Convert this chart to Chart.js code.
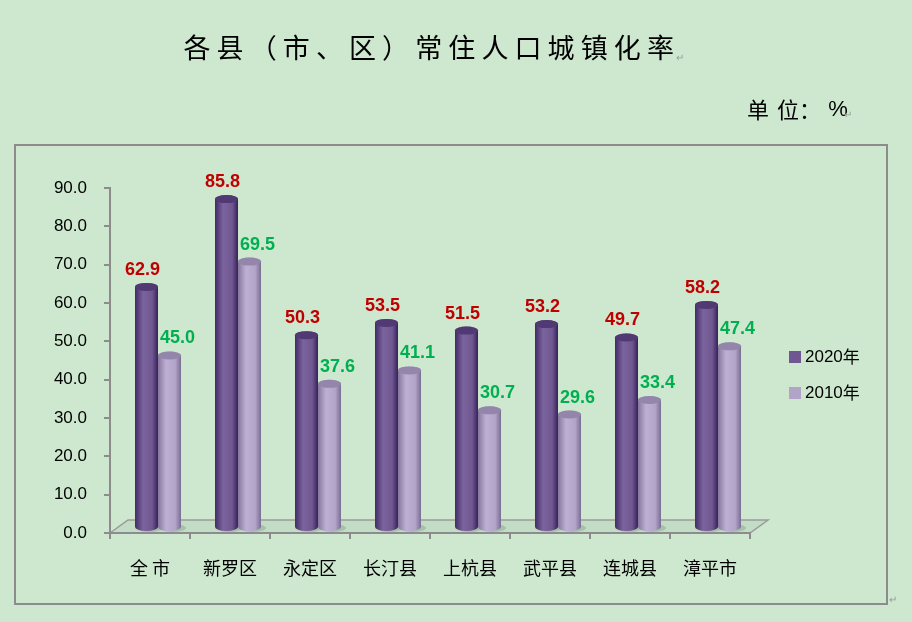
<!DOCTYPE html>
<html>
<head>
<meta charset="utf-8">
<script src="https://cdn.jsdelivr.net/npm/chart.js@4.4.1/dist/chart.umd.min.js"></script>
<style>
  html, body { margin: 0; padding: 0; background: #cde8cf; }
  #wrap { width: 912px; height: 622px; position: relative; }
</style>
</head>
<body>
<div id="wrap"><canvas id="urbanChart" width="912" height="622"></canvas></div>
<script>
// data
const regions = ['全 市', '新罗区', '永定区', '长汀县', '上杭县', '武平县', '连城县', '漳平市'];
const rate2020 = [62.9, 85.8, 50.3, 53.5, 51.5, 53.2, 49.7, 58.2];
const rate2010 = [45.0, 69.5, 37.6, 41.1, 30.7, 29.6, 33.4, 47.4];
const seriesNames = ['2020年', '2010年'];
const titleText = '各县（市、区）常住人口城镇化率';
const unitText = ['单', '位', '：', '%'];

const CJK = '"Noto Sans CJK SC", "Noto Sans", sans-serif';
const LATIN = '"Liberation Sans", Arial, sans-serif';
const colors = ['#6f5891', '#b2a3c9'];
const labelColors = ['#c00000', '#00b050'];
const DX = 18, DY = -13;   // floor depth

// frame, title, unit and floor
const backdrop = {
    id: 'backdrop',
    beforeDraw(chart) {
        const ctx = chart.ctx;
        const a = chart.chartArea;
        ctx.save();
        ctx.fillStyle = '#cde8cf';
        ctx.fillRect(0, 0, chart.width, chart.height);
        ctx.strokeStyle = '#8c8c8c';
        ctx.lineWidth = 2;
        ctx.strokeRect(15, 145, 872, 459);

        ctx.fillStyle = '#000';
        ctx.textAlign = 'center';
        ctx.textBaseline = 'middle';
        ctx.font = '27px ' + CJK;
        [...titleText].forEach((c, i) => ctx.fillText(c, 197 + i * 33.1, 48));
        const ux = [758, 788, 810, 838];
        unitText.forEach((c, i) => {
            ctx.font = (c === '%' ? '22px ' + LATIN : '22px ' + CJK);
            ctx.fillText(c, ux[i], 110);
        });
        ctx.fillStyle = '#999';
        ctx.font = '10px ' + LATIN;
        ctx.fillText('↵', 680, 58);
        ctx.fillText('↵', 848, 115);
        ctx.fillText('↵', 893, 600);

        // floor slab
        const y0 = chart.scales.y.getPixelForValue(0);
        ctx.beginPath();
        ctx.moveTo(a.left, y0);
        ctx.lineTo(a.left + DX, y0 + DY);
        ctx.lineTo(a.right + DX, y0 + DY);
        ctx.lineTo(a.right, y0);
        ctx.closePath();
        ctx.fillStyle = '#c3dcc5';
        ctx.fill();
        ctx.strokeStyle = '#9a9a9a';
        ctx.lineWidth = 1.5;
        ctx.stroke();
        ctx.restore();
    }
};

function cylinder(ctx, cx, top, bottom, w, base) {
    const rx = w / 2, ry = 4;
    // shadow on floor
    ctx.fillStyle = 'rgba(60,80,60,0.2)';
    ctx.beginPath();
    ctx.ellipse(cx + 3, bottom + 1, rx + 2, ry, 0, 0, Math.PI * 2);
    ctx.fill();
    const g = ctx.createLinearGradient(cx - rx, 0, cx + rx, 0);
    g.addColorStop(0, shade(base, -45));
    g.addColorStop(0.35, shade(base, 12));
    g.addColorStop(0.75, base);
    g.addColorStop(1, shade(base, -55));
    ctx.fillStyle = g;
    ctx.beginPath();
    ctx.moveTo(cx - rx, top);
    ctx.lineTo(cx - rx, bottom);
    ctx.ellipse(cx, bottom, rx, ry, 0, Math.PI, 0, true);
    ctx.lineTo(cx + rx, top);
    ctx.ellipse(cx, top, rx, ry, 0, 0, Math.PI, true);
    ctx.fill();
    ctx.fillStyle = shade(base, -30);
    ctx.beginPath();
    ctx.ellipse(cx, top, rx, ry, 0, 0, Math.PI * 2);
    ctx.fill();
}

function shade(hex, amt) {
    const n = parseInt(hex.slice(1), 16);
    const c = [(n >> 16) & 255, (n >> 8) & 255, n & 255].map(v => Math.max(0, Math.min(255, v + amt)));
    return 'rgb(' + c.join(',') + ')';
}

// cylinders, value labels, legend
const cylinders = {
    id: 'cylinders',
    afterDatasetsDraw(chart) {
        const ctx = chart.ctx;
        ctx.save();
        chart.data.datasets.forEach((ds, di) => {
            chart.getDatasetMeta(di).data.forEach((el, i) => {
                const cx = el.x + 8;
                const top = el.y - 5;
                cylinder(ctx, cx, top, el.base - 5, 23, colors[di]);
                ctx.fillStyle = labelColors[di];
                ctx.font = 'bold 18px ' + LATIN;
                ctx.textAlign = 'center';
                ctx.textBaseline = 'middle';
                ctx.fillText(ds.data[i].toFixed(1), cx + (di === 0 ? -4 : 8), top - 17);
            });
        });
        seriesNames.forEach((name, i) => {
            const y = 357 + i * 36;
            ctx.fillStyle = colors[i];
            ctx.fillRect(789, y - 6, 12, 12);
            ctx.fillStyle = '#000';
            ctx.textAlign = 'left';
            ctx.textBaseline = 'middle';
            ctx.font = '17px ' + LATIN;
            ctx.fillText(name.slice(0, 4), 805, y);
            const w = ctx.measureText(name.slice(0, 4)).width;
            ctx.font = '17px ' + CJK;
            ctx.fillText(name.slice(4), 805 + w, y);
        });
        ctx.restore();
    }
};

new Chart(document.getElementById('urbanChart'), {
    type: 'bar',
    data: {
        labels: regions,
        datasets: [
            { label: seriesNames[0], data: rate2020, backgroundColor: 'rgba(0,0,0,0)' },
            { label: seriesNames[1], data: rate2010, backgroundColor: 'rgba(0,0,0,0)' }
        ]
    },
    options: {
        responsive: false,
        animation: false,
        layout: { padding: { left: 0, top: 188, right: 162, bottom: 0 } },
        plugins: { legend: { display: false }, tooltip: { enabled: false } },
        datasets: { bar: { barThickness: 23, categoryPercentage: 0.58, barPercentage: 0.95 } },
        scales: {
            y: {
                min: 0, max: 90,
                afterFit: s => { s.width = 110; },
                ticks: {
                    stepSize: 10, padding: 17, color: '#000',
                    font: { family: LATIN, size: 17 },
                    callback: v => v.toFixed(1)
                },
                grid: { drawOnChartArea: false, tickLength: 6, color: '#8c8c8c', lineWidth: 2 },
                border: { color: '#8c8c8c', width: 2 }
            },
            x: {
                afterFit: s => { s.height = 89; },
                ticks: { padding: 18, color: '#000', font: { family: CJK, size: 18 } },
                grid: { drawOnChartArea: false, tickLength: 6, color: '#8c8c8c', lineWidth: 2 },
                border: { color: '#8c8c8c', width: 2 }
            }
        }
    },
    plugins: [backdrop, cylinders]
});
</script>
</body>
</html>
